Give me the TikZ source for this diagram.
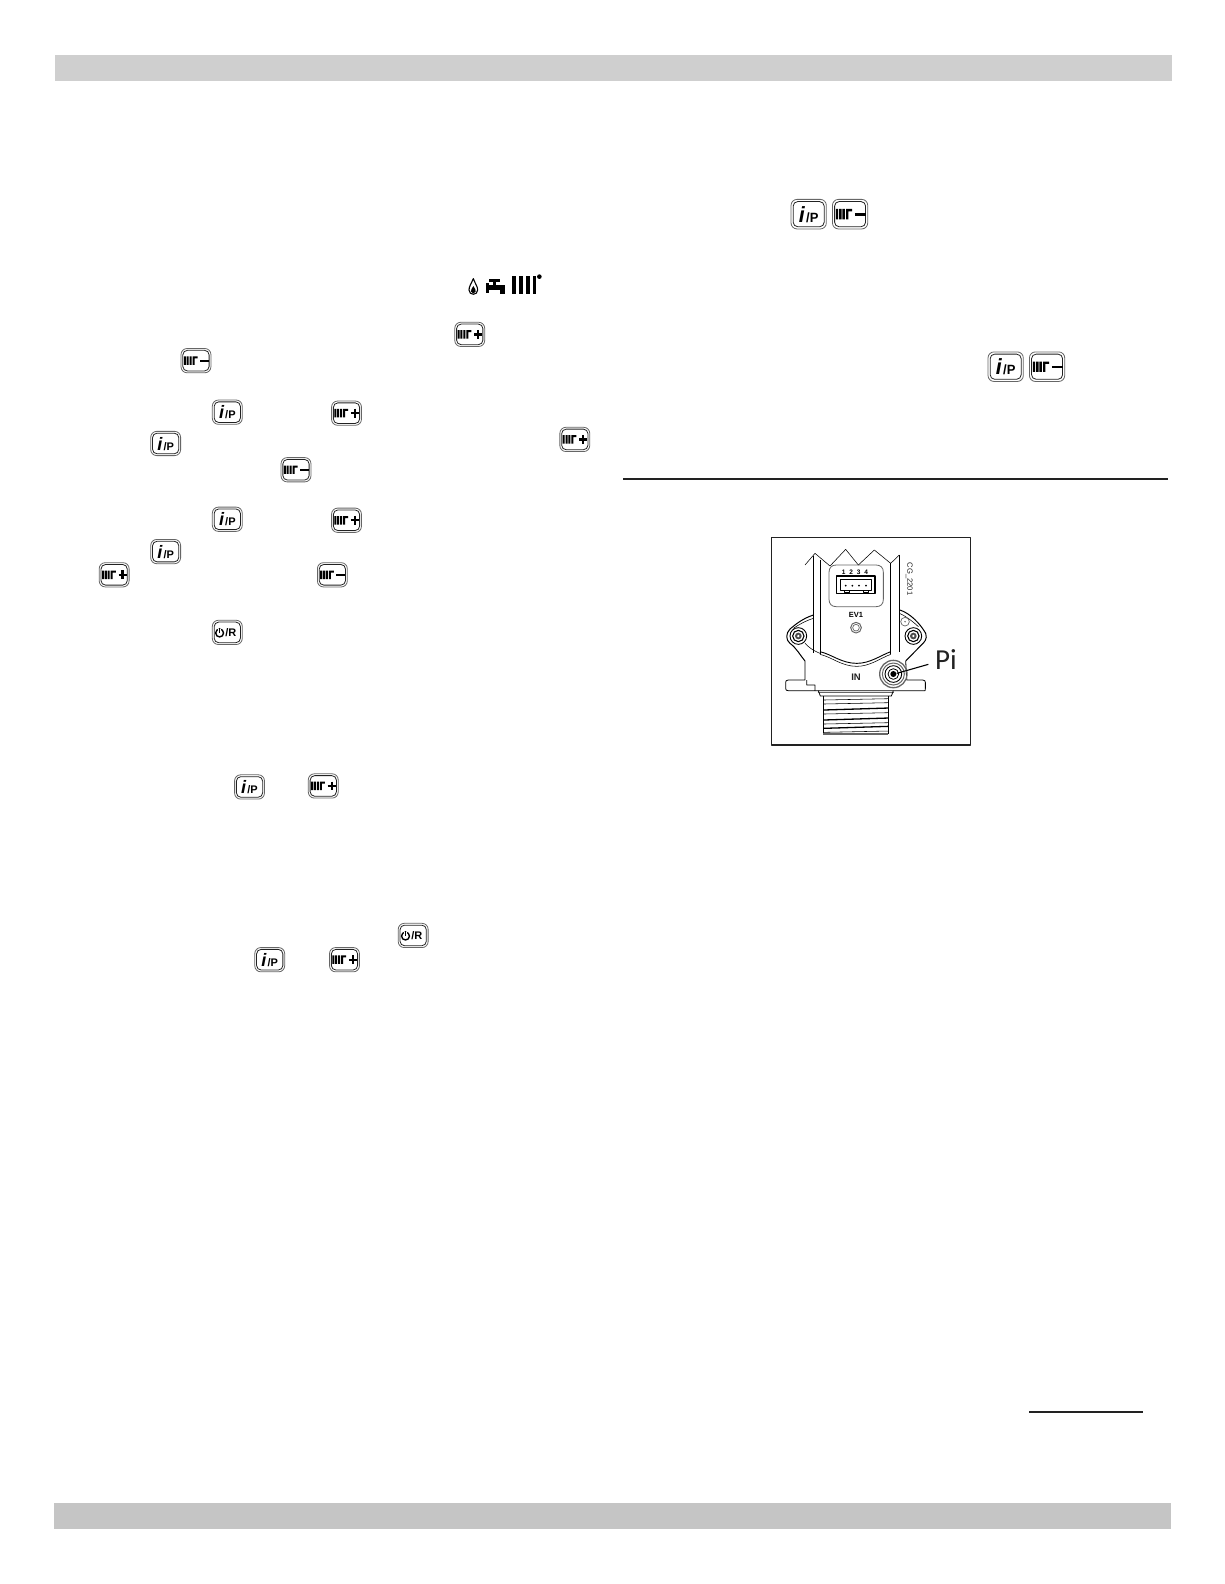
\documentclass[tikz,border=0pt]{standalone}
\usepackage{fontspec}
\setmainfont{Liberation Sans}
\newfontfamily\picontfont{Carlito}
\definecolor{barA}{HTML}{CFCFCF}
\definecolor{barB}{HTML}{C5C5C5}
\definecolor{ink}{HTML}{222222}
\definecolor{soft}{HTML}{666666}
\tikzset{
  btnframe/.pic={
    \draw[soft,line width=.8,rounded corners=6] (-14.8,-12) rectangle (14.8,12);
    \draw[ink,line width=.8,rounded corners=4.5] (-13,-10.2) rectangle (13,10.2);
  },
  radiator/.pic={
    \fill[black] (-12,-4.2) rectangle (-10,4.2) (-9.2,-4.2) rectangle (-7.2,4.2) (-6.4,-4.2) rectangle (-4.4,4.2);
    \fill[black] (-3.4,-4.2) rectangle (-1.4,4.2) (-3.4,-4.2) rectangle (1.6,-2.2);
  },
  plusbtn/.pic={
    \pic[transform shape] {btnframe}; \pic[transform shape] {radiator};
    \draw[black,line width=2.3] (4.4,0) -- (12.4,0) (8.4,-4.4) -- (8.4,4.4);
  },
  minusbtn/.pic={
    \pic[transform shape] {btnframe}; \pic[transform shape] {radiator};
    \draw[black,line width=2.6] (4,0.3) -- (13,0.3);
  },
  ipbtn/.pic={
    \pic[transform shape] {btnframe};
    \node[transform shape,inner sep=0,text=black] (lbl) at (0,0.3)
      {{\fontsize{18}{18}\selectfont\bfseries\itshape i}\hspace{1.2pt}{\fontsize{11}{11}\selectfont\bfseries /P}};
  },
  orbtn/.pic={
    \pic[transform shape] {btnframe};
    \draw[black,line width=1.4] (-7.6,0.6) circle (3.9);
    \draw[white,line width=3] (-7.6,-3.4) -- (-7.6,-1.5);
    \draw[black,line width=1.4] (-7.6,-4.6) -- (-7.6,0.2);
    \node[transform shape,inner sep=0,text=black] (lbl) at (3.6,0.3)
      {\fontsize{11}{11}\selectfont\bfseries /R};
  },
  thinl/.style={black,line width=.55},
  graylin/.style={soft,line width=.7},
  boldl/.style={black,line width=.9},
}
\begin{document}
\begin{tikzpicture}[x=1.0102pt,y=-1.0102pt,line join=round]
\useasboundingbox (0,0) rectangle (1211.64,1568);
\fill[white] (0,0) rectangle (1211.64,1568);
% bars and rules
\fill[barA] (54,54) rectangle (1160,80);
\fill[barB] (53,1488) rectangle (1159,1514);
\draw[ink,line width=2] (617,474) -- (1156,474);
\draw[ink,line width=2] (1019,1398) -- (1131,1398);
% buttons, left column
\pic (p1) at (465,331) {plusbtn};
\pic (m1) at (194,357) {minusbtn};
\pic (i1) at (225,408) {ipbtn};
\pic (p2) at (343,409) {plusbtn};
\pic (i2) at (164,439) {ipbtn};
\pic (p3) at (569,435) {plusbtn};
\pic (m2) at (293,465) {minusbtn};
\pic (i3) at (225,514) {ipbtn};
\pic (p4) at (343,515) {plusbtn};
\pic (i4) at (164,546) {ipbtn};
\pic (p5) at (113,569) {plusbtn};
\pic (m3) at (329,569) {minusbtn};
\pic (o1) at (225,626) {orbtn};
\pic (i5) at (247,779) {ipbtn};
\pic (p6) at (320,778) {plusbtn};
\pic (o2) at (409,926) {orbtn};
\pic (i6) at (267,950) {ipbtn};
\pic (p7) at (341,950) {plusbtn};
% buttons, right column
\begin{scope}[shift={(800.5,212)},xscale=1.18,yscale=1.22]\pic[transform shape] (i7) {ipbtn};\end{scope}
\begin{scope}[shift={(841.5,212)},xscale=1.18,yscale=1.22]\pic[transform shape] (m4) {minusbtn};\end{scope}
\begin{scope}[shift={(995.5,363)},xscale=1.18,yscale=1.22]\pic[transform shape] (i8) {ipbtn};\end{scope}
\begin{scope}[shift={(1036.5,363)},xscale=1.18,yscale=1.22]\pic[transform shape] (m5) {minusbtn};\end{scope}
% status icons
\begin{scope}[shift={(435.56,257.37)},scale=.33]
  \draw[black,line width=1.1] (100,56) .. controls (93,72) and (87,80) .. (87,90) .. controls (87,107) and (113,107) .. (113,90) .. controls (113,80) and (106,72) .. (100,56) -- cycle;
  \fill[black] (100,78) .. controls (95,86) and (92,90) .. (93,95) .. controls (95,102) and (105,102) .. (107,95) .. controls (108,90) and (105,86) .. (100,78) -- cycle;
  \fill[black] (138,76) rectangle (195,90);
  \fill[black] (138,70) rectangle (148,100);
  \fill[black] (180,76) rectangle (196,102);
  \fill[black] (160,60) rectangle (168,78);
  \fill[black] (148,58) rectangle (180,65);
  \fill[black] (216,48) rectangle (228,103);
  \fill[black] (237,48) rectangle (249,103);
  \fill[black] (257,48) rectangle (269,103);
  \fill[black] (278,48) rectangle (289,103);
  \fill[black] (298,50) circle (7);
\end{scope}
% figure
\begin{scope}[shift={(747.37,519.70)},scale=.33]
  \draw[ink,line width=1.3] (50,38) rectangle (647,660);
  % housing top
  \draw[thinl] (150,120) -- (180,85) -- (225,123) -- (272,73) -- (310,120) -- (358,75) -- (407,115) -- (433,90);
  \draw[thinl] (175,92) -- (175,385);
  \draw[thinl] (195,105) -- (195,388);
  \draw[thinl] (433,90) -- (433,382);
  \draw[thinl] (407,115) -- (407,388);
  % connector panel
  \draw[soft,line width=.8] (222,142) .. controls (222,128) and (230,120) .. (244,120) -- (363,120) .. controls (377,120) and (385,128) .. (385,142) -- (385,223) .. controls (385,237) and (377,245) .. (363,245) -- (244,245) .. controls (230,245) and (222,237) .. (222,223) -- cycle;
  \draw[black,line width=1.3] (245,153) rectangle (360,205);
  \draw[boldl] (256,164) rectangle (350,195);
  \draw[thinl] (268,195) rectangle (284,203) (325,195) rectangle (341,203);
  \fill[black] (272,182) circle (3) (292,182) circle (3) (312,182) circle (3) (333,182) circle (3);
  \node[inner sep=0,font=\fontsize{6.5}{7}\selectfont\bfseries] (conn) at (300,142) {1\hspace{3.9pt}2\hspace{3.9pt}3\hspace{3.9pt}4};
  \node[inner sep=0,font=\fontsize{7.5}{8}\selectfont\bfseries] (ev) at (303,271) {EV1};
  \node[inner sep=0,rotate=-90,font=\fontsize{7.6}{8}\selectfont,text=ink] (cg) at (463,162) {CG\_2201};
  \draw[graylin,line width=1] (303,308) circle (16);
  \draw[graylin] (303,308) circle (10);
  % ears
  \draw[black,line width=1] (175,270) .. controls (145,280) and (125,295) .. (105,312) .. controls (92,325) and (92,345) .. (105,355) .. controls (125,370) and (135,390) .. (150,408);
  \draw[thinl] (175,280) .. controls (150,288) and (130,300) .. (115,310);
  \draw[thinl] (150,355) .. controls (160,365) and (170,375) .. (195,385);
  \draw[black,line width=1] (435,255) .. controls (465,265) and (495,295) .. (512,325) .. controls (518,342) and (508,352) .. (497,362) -- (452,408);
  \draw[thinl] (433,265) .. controls (450,272) and (475,290) .. (490,305);
  \draw[graylin] (450,290) circle (13);
  \fill[soft] (450,290) circle (2.5);
  \foreach \cx in {130,475}{
    \draw[boldl] (\cx,333) circle (25);
    \draw[black,line width=1.1] (\cx,333) circle (17);
    \fill[black!70] (\cx,333) circle (10);
    \fill[white] (\cx,333) circle (4);
  }
  % saddle curve
  \draw[boldl] (195,380) .. controls (230,388) and (260,415) .. (305,415) .. controls (345,415) and (375,392) .. (407,380);
  \draw[thinl] (195,388) .. controls (230,396) and (260,424) .. (305,424) .. controls (345,424) and (375,400) .. (407,388);
  % lower body
  \draw[black,line width=.8] (150,408) -- (150,465) -- (100,465) .. controls (94,465) and (92,468) .. (92,472) -- (92,490) .. controls (92,495) and (94,497) .. (100,497) -- (180,497) -- (180,480) -- (155,480) -- (155,465);
  \draw[black,line width=.8] (180,497) -- (510,497) .. controls (510,497) and (511,494) .. (511,490) -- (511,472) .. controls (511,468) and (509,465) .. (503,465) -- (455,465) -- (452,408);
  \draw[soft,line width=1] (188,503) -- (418,503);
  \draw[black,line width=.8] (190,497) -- (196,513) -- (409,513) -- (415,497);
  \node[inner sep=0,font=\fontsize{9.5}{10}\selectfont\bfseries,text=ink] (in) at (303,458) {IN};
  % thread
  \draw[boldl] (205,513) -- (205,627);
  \draw[boldl] (400,513) -- (400,627);
  \foreach \ty in {523,535,565,595,620}{
    \draw[thinl] (205,\ty+2) -- (400,\ty-2);
  }
  \foreach \ty in {552,582,607}{
    \draw[black,line width=1.3] (205,\ty+3) -- (400,\ty-3);
  }
  \draw[soft,line width=1.2] (205,627) -- (400,627);
  % port
  \draw[soft,line width=1.3] (415,447) circle (41);
  \draw[soft,line width=1] (415,447) circle (33);
  \draw[black,line width=.9] (415,447) circle (25);
  \draw[black,line width=.8] (415,447) circle (16);
  \fill[black] (415,447) circle (9);
  % Pi
  \coordinate (piend) at (425,445);
  \node[inner sep=0,anchor=west,font=\picontfont\fontsize{29}{30}\selectfont,text=ink] (pi) at (540,405) {Pi};
  \draw[black,line width=1.1] (piend) -- (520,418);
\end{scope}
\end{tikzpicture}
\end{document}
